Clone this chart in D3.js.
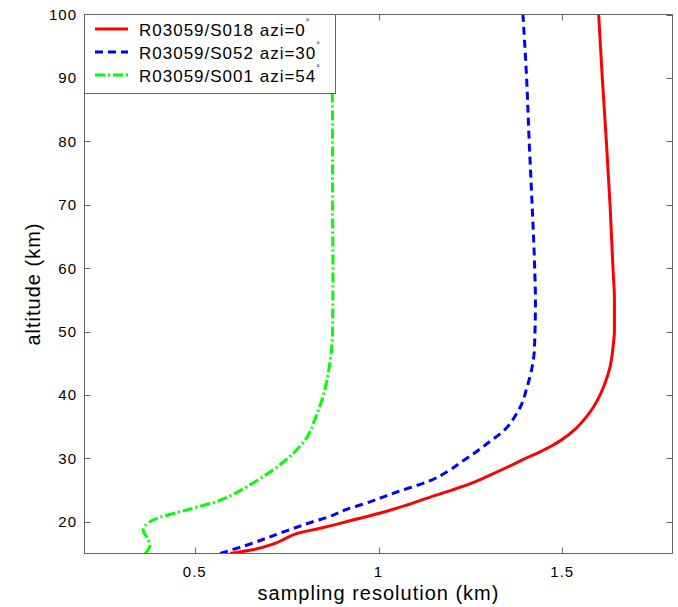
<!DOCTYPE html>
<html lang="en">
<head>
  <meta charset="UTF-8">
  <title>Sampling resolution vs altitude</title>
  <script src="https://d3js.org/d3.v7.min.js"></script>
  <style>
    body {
      margin: 0;
      background-color: #fff;
      font-family: "Liberation Sans", Arial, sans-serif;
    }
    .tick-label {
      font-size: 15px;
      letter-spacing: 1px;
    }
    .axis-label {
      font-size: 20px;
      letter-spacing: 1px;
    }
    .legend-text {
      font-size: 17px;
      letter-spacing: 1px;
    }
  </style>
</head>
<body>
  <svg width="678" height="607"></svg>
  <script>
    // Data: altitude (km) and sampling resolution (km)
    const altS018 = [15, 15.5, 16.5, 17.3, 18.1, 19.1, 20.2, 21.3, 22.5, 23.9, 25, 26.2, 27.4, 28.6, 30, 31, 32, 32.8, 34.7, 36.5, 38.1, 40, 41.8, 44.4, 48, 50, 55, 60, 70, 80, 90, 100];
    const resS018 = [0.596, 0.65, 0.714, 0.745, 0.775, 0.85, 0.925, 1.0, 1.07, 1.141, 1.20, 1.259, 1.305, 1.35, 1.40, 1.438, 1.472, 1.495, 1.537, 1.565, 1.585, 1.603, 1.616, 1.630, 1.639, 1.642, 1.642, 1.638, 1.630, 1.620, 1.609, 1.599];

    const altS052 = [15, 16.5, 18.4, 20.2, 20.7, 22, 22.8, 24.7, 26.5, 28, 29.7, 31, 32.3, 34.9, 36.5, 38.1, 41.2, 44.4, 47, 55, 60, 70, 80, 90, 100];
    const resS052 = [0.569, 0.651, 0.741, 0.832, 0.86, 0.915, 0.959, 1.05, 1.141, 1.19, 1.232, 1.265, 1.295, 1.35, 1.37, 1.386, 1.404, 1.418, 1.424, 1.427, 1.425, 1.418, 1.41, 1.403, 1.393];

    const altS001 = [15, 16.3, 17.5, 18.6, 19.9, 20.7, 21.5, 22.3, 23.2, 24.2, 26, 28.6, 30.8, 33.3, 36, 39.6, 44, 50, 60, 70, 80, 90, 100];
    const resS001 = [0.365, 0.378, 0.37, 0.36, 0.375, 0.405, 0.455, 0.505, 0.56, 0.60, 0.655, 0.723, 0.768, 0.805, 0.826, 0.848, 0.865, 0.875, 0.876, 0.875, 0.875, 0.874, 0.873];

    const seriesNames = ["R03059/S018 azi=0", "R03059/S052 azi=30", "R03059/S001 azi=54"];
    const xTicks = [0.5, 1, 1.5];
    const yTicks = [20, 30, 40, 50, 60, 70, 80, 90, 100];

    const series = [
      { name: seriesNames[0], alt: altS018, res: resS018, color: "#ff0000", dash: null },
      { name: seriesNames[1], alt: altS052, res: resS052, color: "#0000ff", dash: "8,5" },
      { name: seriesNames[2], alt: altS001, res: resS001, color: "#00ff00", dash: "10,3,2,3" }
    ];

    const plotLeft = 84.5, plotRight = 672.5, plotTop = 14.5, plotBottom = 553.5;
    const svg = d3.select("svg");

    const x = d3.scaleLinear().domain([0.2, 1.8]).range([plotLeft, plotRight]);
    const y = d3.scaleLinear().domain([15, 100]).range([plotBottom, plotTop]);

    // Curves (clipped to the axes box)
    svg.append("clipPath").attr("id", "plot-clip")
      .append("rect")
      .attr("x", plotLeft).attr("y", plotTop)
      .attr("width", plotRight - plotLeft).attr("height", plotBottom - plotTop);

    const line = d3.line()
      .x(d => x(d[1]))
      .y(d => y(d[0]))
      .curve(d3.curveMonotoneY);

    const plot = svg.append("g").attr("clip-path", "url(#plot-clip)");
    series.forEach(s => {
      plot.append("path")
        .datum(d3.zip(s.alt, s.res))
        .attr("fill", "none")
        .attr("stroke", s.color)
        .attr("stroke-width", 3)
        .attr("stroke-dasharray", s.dash)
        .attr("d", line);
    });

    // Axes box
    svg.append("rect")
      .attr("x", plotLeft).attr("y", plotTop)
      .attr("width", plotRight - plotLeft).attr("height", plotBottom - plotTop)
      .attr("fill", "none")
      .attr("stroke", "#666");

    // Ticks pointing inward on all four sides
    const tickLen = 6;
    const ax = svg.append("g").attr("stroke", "#666");
    xTicks.forEach(t => {
      const px = Math.round(x(t)) + 0.5;
      ax.append("line").attr("x1", px).attr("x2", px).attr("y1", plotBottom).attr("y2", plotBottom - tickLen);
      ax.append("line").attr("x1", px).attr("x2", px).attr("y1", plotTop).attr("y2", plotTop + tickLen);
    });
    yTicks.forEach(t => {
      const py = Math.round(y(t)) + 0.5;
      ax.append("line").attr("x1", plotLeft).attr("x2", plotLeft + tickLen).attr("y1", py).attr("y2", py);
      ax.append("line").attr("x1", plotRight).attr("x2", plotRight - tickLen).attr("y1", py).attr("y2", py);
    });

    // Tick labels
    svg.append("g").selectAll("text")
      .data(xTicks)
      .enter()
      .append("text")
      .attr("class", "tick-label")
      .attr("x", d => x(d))
      .attr("y", 577)
      .attr("text-anchor", "middle")
      .text(d => d);

    svg.append("g").selectAll("text")
      .data(yTicks)
      .enter()
      .append("text")
      .attr("class", "tick-label")
      .attr("x", 77)
      .attr("y", d => y(d) + 5.5)
      .attr("text-anchor", "end")
      .text(d => d);

    // Axis labels
    svg.append("text")
      .attr("class", "axis-label")
      .attr("x", (plotLeft + plotRight) / 2)
      .attr("y", 600)
      .attr("text-anchor", "middle")
      .text("sampling resolution (km)");

    svg.append("text")
      .attr("class", "axis-label")
      .attr("transform", `translate(40, ${(plotTop + plotBottom) / 2}) rotate(-90)`)
      .attr("text-anchor", "middle")
      .text("altitude (km)");

    // Legend
    const legend = svg.append("g");
    legend.append("rect")
      .attr("x", plotLeft).attr("y", plotTop)
      .attr("width", 335.5 - plotLeft).attr("height", 93.5 - plotTop)
      .attr("fill", "#fff")
      .attr("stroke", "#666");

    series.forEach((s, i) => {
      const cy = 29 + i * 23;
      legend.append("line")
        .attr("x1", 95).attr("x2", 128)
        .attr("y1", cy).attr("y2", cy)
        .attr("stroke", s.color)
        .attr("stroke-width", 3)
        .attr("stroke-dasharray", s.dash);
      const t = legend.append("text")
        .attr("class", "legend-text")
        .attr("x", 139)
        .attr("y", cy + 7);
      t.append("tspan").text(s.name);
      t.append("tspan")
        .attr("dy", -11)
        .style("font-size", "9px")
        .text("\u00b0");
    });
  </script>
</body>
</html>
